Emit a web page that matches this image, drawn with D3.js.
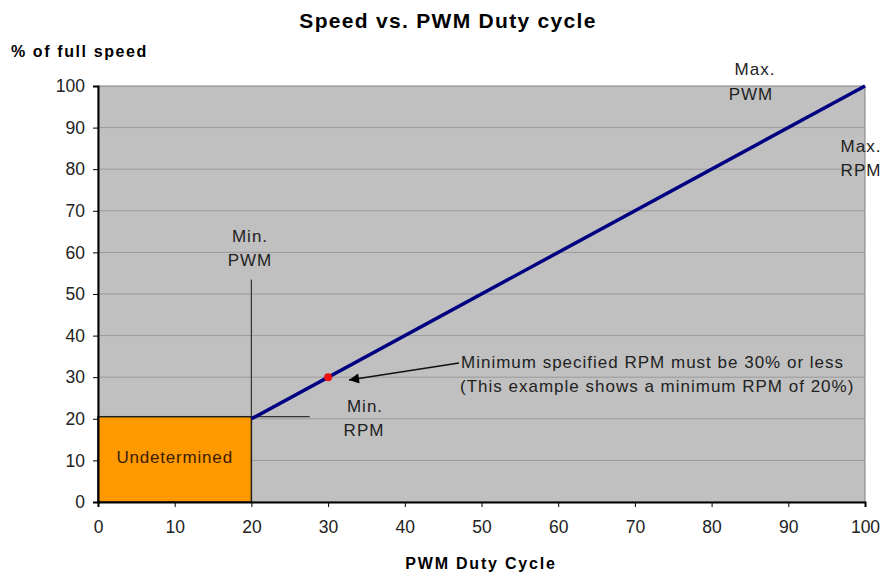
<!DOCTYPE html>
<html>
<head>
<meta charset="utf-8">
<script src="https://cdn.jsdelivr.net/npm/d3@7"></script>
<style>
  body { margin: 0; background: #fff; }
  text { font-family: "Liberation Sans", Arial, sans-serif; }
</style>
</head>
<body>
<div id="chart"></div>
<script>
// data
const xTicks = [0, 10, 20, 30, 40, 50, 60, 70, 80, 90, 100]
const yTicks = [0, 10, 20, 30, 40, 50, 60, 70, 80, 90, 100]
const speedLine = [[20, 20], [100, 100]]
const undetermined = { x0: 0, x1: 20, y0: 0, y1: 20.5 }
const minRpmPoint = [30, 30]
const minPwmMarker = [[20, 20.5], [20, 53.5]]
const minRpmMarker = [[20, 20.5], [27.6, 20.5]]

const width = 885
const height = 576
const margin = { top: 86, right: 20, bottom: 74, left: 98 }

const svg = d3.select('#chart')
  .append('svg')
  .attr('width', width)
  .attr('height', height)

const scaleX = d3.scaleLinear()
  .domain([0, 100])
  .range([margin.left, width - margin.right])

const scaleY = d3.scaleLinear()
  .domain([0, 100])
  .range([height - margin.bottom, margin.top])

// plot background
svg.append('rect')
  .attr('x', scaleX(0))
  .attr('y', scaleY(100))
  .attr('width', scaleX(100) - scaleX(0))
  .attr('height', scaleY(0) - scaleY(100))
  .attr('fill', '#c0c0c0')
  .attr('stroke', '#808080')

// gridlines
svg.append('g')
  .selectAll('line')
  .data(yTicks.filter(d => d > 0 && d < 100))
  .enter()
  .append('line')
  .attr('x1', scaleX(0))
  .attr('x2', scaleX(100))
  .attr('y1', d => scaleY(d))
  .attr('y2', d => scaleY(d))
  .attr('stroke', '#9a9a9a')
  .attr('stroke-width', 1)

// orange box
svg.append('rect')
  .attr('x', scaleX(undetermined.x0))
  .attr('y', scaleY(undetermined.y1))
  .attr('width', scaleX(undetermined.x1) - scaleX(undetermined.x0))
  .attr('height', scaleY(undetermined.y0) - scaleY(undetermined.y1))
  .attr('fill', '#ff9900')
  .attr('stroke', '#222')
  .attr('stroke-width', 1.5)

svg.append('text')
  .text('Undetermined')
  .attr('x', scaleX(10))
  .attr('y', scaleY(10.5))
  .attr('text-anchor', 'middle')
  .attr('dominant-baseline', 'middle')
  .style('font-size', '17px')
  .style('letter-spacing', '0.8px')
  .attr('fill', '#3a2000')

// marker lines
const line = d3.line().x(d => scaleX(d[0])).y(d => scaleY(d[1]))

svg.append('path')
  .attr('d', line(minPwmMarker))
  .attr('stroke', '#333')
  .attr('stroke-width', 1.2)
  .attr('fill', 'none')

svg.append('path')
  .attr('d', line(minRpmMarker))
  .attr('stroke', '#333')
  .attr('stroke-width', 1.2)
  .attr('fill', 'none')

// axes
const xAxis = d3.axisBottom(scaleX).tickValues(xTicks).tickSize(5).tickPadding(14)
const gx = svg.append('g')
  .attr('transform', `translate(0, ${scaleY(0)})`)
  .call(xAxis)
gx.select('.domain').attr('stroke', '#000').attr('stroke-width', 2)
gx.selectAll('text').style('font-size', '17.5px').attr('fill', '#222')

const yAxis = d3.axisLeft(scaleY).tickValues(yTicks).tickSize(5).tickPadding(8)
const gy = svg.append('g')
  .attr('transform', `translate(${scaleX(0)}, 0)`)
  .call(yAxis)
gy.select('.domain').attr('stroke', '#000').attr('stroke-width', 2)
gy.selectAll('text').style('font-size', '17.5px').attr('fill', '#222')

// speed line
svg.append('path')
  .attr('d', line(speedLine))
  .attr('stroke', '#000080')
  .attr('stroke-width', 3.5)
  .attr('fill', 'none')

svg.append('circle')
  .attr('cx', scaleX(minRpmPoint[0]))
  .attr('cy', scaleY(minRpmPoint[1]))
  .attr('r', 4)
  .attr('fill', '#ee1111')

// arrow
svg.append('defs').append('marker')
  .attr('id', 'head')
  .attr('viewBox', '0 0 10 10')
  .attr('refX', 10)
  .attr('refY', 5)
  .attr('markerWidth', 14)
  .attr('markerHeight', 10)
  .attr('markerUnits', 'userSpaceOnUse')
  .attr('orient', 'auto')
  .append('path')
  .attr('d', 'M0,0 L10,5 L0,10 Z')
  .attr('fill', '#000')

svg.append('line')
  .attr('x1', 459)
  .attr('y1', 363)
  .attr('x2', 349)
  .attr('y2', 380)
  .attr('stroke', '#111')
  .attr('stroke-width', 1.3)
  .attr('marker-end', 'url(#head)')

// annotations
const notes = [
  { t: 'Minimum specified RPM must be 30% or less', x: 461, y: 368, a: 'start' },
  { t: '(This example shows a minimum RPM of 20%)', x: 460, y: 392, a: 'start' },
  { t: 'Min.', x: 250, y: 242, a: 'middle' },
  { t: 'PWM', x: 250, y: 266, a: 'middle' },
  { t: 'Min.', x: 365, y: 412, a: 'middle' },
  { t: 'RPM', x: 364, y: 436, a: 'middle' },
  { t: 'Max.', x: 755, y: 75, a: 'middle' },
  { t: 'PWM', x: 751, y: 100, a: 'middle' },
  { t: 'Max.', x: 861, y: 152, a: 'middle' },
  { t: 'RPM', x: 861, y: 176, a: 'middle' }
]

svg.append('g')
  .selectAll('text')
  .data(notes)
  .enter()
  .append('text')
  .text(d => d.t)
  .attr('x', d => d.x)
  .attr('y', d => d.y)
  .attr('text-anchor', d => d.a)
  .style('font-size', '17px')
  .style('letter-spacing', '1px')
  .attr('fill', '#222')

// titles
svg.append('text')
  .text('Speed vs. PWM Duty cycle')
  .attr('x', 448)
  .attr('y', 28)
  .attr('text-anchor', 'middle')
  .style('font-size', '21px')
  .style('letter-spacing', '1.3px')
  .style('font-weight', 'bold')

svg.append('text')
  .text('% of full speed')
  .attr('x', 11)
  .attr('y', 57)
  .style('font-size', '16px')
  .style('letter-spacing', '1.6px')
  .style('font-weight', 'bold')

svg.append('text')
  .text('PWM Duty Cycle')
  .attr('x', 481)
  .attr('y', 569)
  .attr('text-anchor', 'middle')
  .style('font-size', '16px')
  .style('letter-spacing', '1.8px')
  .style('font-weight', 'bold')
</script>
</body>
</html>
